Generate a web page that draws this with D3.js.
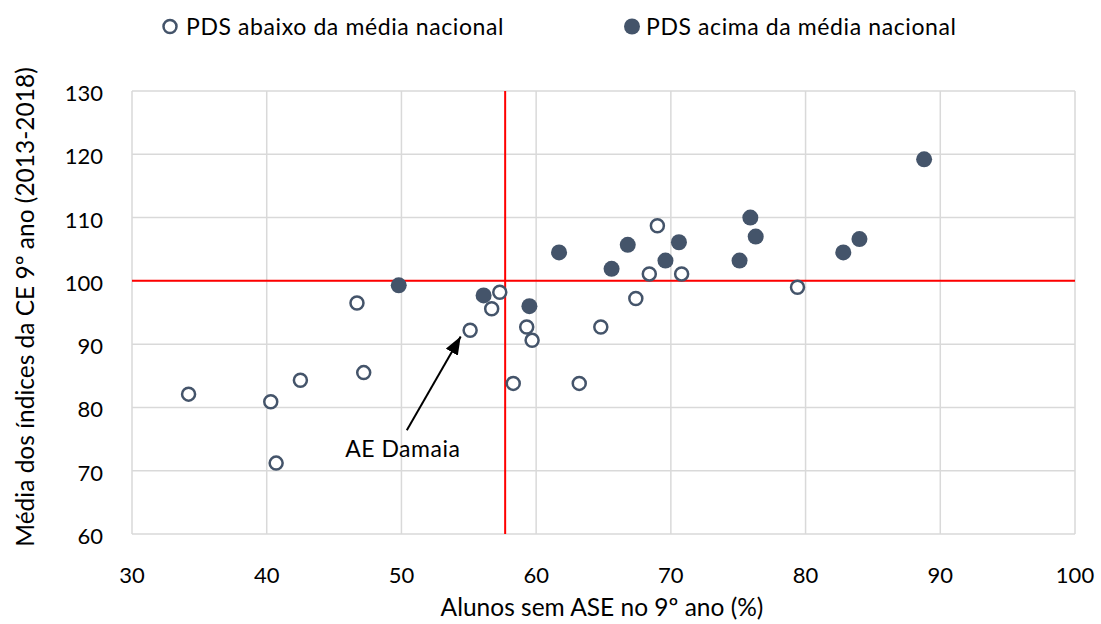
<!DOCTYPE html>
<meta charset="utf-8">
<style>
  body { margin: 0; background: #fff; }
  text { font-family: Lato, "Open Sans", sans-serif; fill: #000; }
</style>
<body>
<div id="chart"></div>
<script src="https://d3js.org/d3.v7.min.js"></script>
<script>

// PDS abaixo da média nacional (open markers)
var belowX = [34.2, 40.3, 40.7, 42.5, 46.7, 47.2, 55.1, 56.7, 57.3, 58.3, 59.3, 59.7, 63.2, 64.8, 67.4, 68.4, 69.0, 70.8, 79.4];
var belowY = [82.1, 80.9, 71.2, 84.3, 96.5, 85.5, 92.2, 95.6, 98.2, 83.8, 92.7, 90.6, 83.8, 92.7, 97.2, 101.1, 108.7, 101.1, 99.0];

// PDS acima da média nacional (filled markers)
var aboveX = [49.8, 56.1, 59.5, 61.7, 65.6, 66.8, 69.6, 70.6, 75.1, 75.9, 76.3, 82.8, 84.0, 88.8];
var aboveY = [99.3, 97.7, 96.0, 104.5, 101.9, 105.7, 103.2, 106.1, 103.2, 110.0, 107.0, 104.5, 106.6, 119.2];

// reference lines
var refX = 57.7;
var refY = 100;

var xTicks = [30, 40, 50, 60, 70, 80, 90, 100];
var yTicks = [60, 70, 80, 90, 100, 110, 120, 130];

var width = 1101, height = 624;
var margin = {left: 132, right: 26, top: 91, bottom: 90};
var markColor = "#44546a";

var svg = d3.select("#chart").append("svg")
    .attr("width", width)
    .attr("height", height);

var x = d3.scaleLinear().domain([30, 100]).range([margin.left, width - margin.right]);
var y = d3.scaleLinear().domain([60, 130]).range([height - margin.bottom, margin.top]);

// gridlines
svg.append("g").selectAll("line")
    .data(xTicks)
    .enter().append("line")
      .attr("x1", d => x(d)).attr("x2", d => x(d))
      .attr("y1", y(60)).attr("y2", y(130))
      .style("stroke", "#d9d9d9")
      .style("stroke-width", 1.5);

svg.append("g").selectAll("line")
    .data(yTicks)
    .enter().append("line")
      .attr("x1", x(30)).attr("x2", x(100))
      .attr("y1", d => y(d)).attr("y2", d => y(d))
      .style("stroke", "#d9d9d9")
      .style("stroke-width", 1.5);

// tick labels
svg.append("g").selectAll("text")
    .data(xTicks)
    .enter().append("text")
      .attr("x", d => x(d))
      .attr("y", y(60) + 49)
      .attr("text-anchor", "middle")
      .style("font-size", "22px")
      .text(d => d);

svg.append("g").selectAll("text")
    .data(yTicks)
    .enter().append("text")
      .attr("x", x(30) - 29)
      .attr("y", d => y(d) + 10)
      .attr("text-anchor", "end")
      .style("font-size", "22px")
      .text(d => d);

// axis titles
svg.append("text")
    .attr("x", 602)
    .attr("y", 616)
    .attr("text-anchor", "middle")
    .style("font-size", "24.5px")
    .text("Alunos sem ASE no 9º ano (%)");

svg.append("text")
    .attr("transform", "translate(34,307) rotate(-90)")
    .attr("text-anchor", "middle")
    .style("font-size", "24.5px")
    .text("Média dos índices da CE 9º ano (2013-2018)");

// red reference lines
svg.append("line")
    .attr("x1", x(refX)).attr("x2", x(refX))
    .attr("y1", y(60)).attr("y2", y(130))
    .style("stroke", "#ff0000").style("stroke-width", 2);

svg.append("line")
    .attr("x1", x(30)).attr("x2", x(100))
    .attr("y1", y(refY)).attr("y2", y(refY))
    .style("stroke", "#ff0000").style("stroke-width", 2);

// points
var below = belowX.map((v, i) => ({x: v, y: belowY[i]}));
var above = aboveX.map((v, i) => ({x: v, y: aboveY[i]}));

svg.append("g").selectAll("circle")
    .data(below)
    .enter().append("circle")
      .attr("cx", d => x(d.x))
      .attr("cy", d => y(d.y))
      .attr("r", 6.5)
      .style("fill", "#fff")
      .style("stroke", markColor)
      .style("stroke-width", 2.5);

svg.append("g").selectAll("circle")
    .data(above)
    .enter().append("circle")
      .attr("cx", d => x(d.x))
      .attr("cy", d => y(d.y))
      .attr("r", 8)
      .style("fill", markColor);

// annotation arrow
svg.append("defs").append("marker")
    .attr("id", "arrow")
    .attr("viewBox", "0 0 18 14")
    .attr("markerUnits", "userSpaceOnUse")
    .attr("refX", 18).attr("refY", 7)
    .attr("markerWidth", 18).attr("markerHeight", 14)
    .attr("orient", "auto")
  .append("path")
    .attr("d", "M0,0 L18,7 L0,14 z")
    .style("fill", "#000");

svg.append("line")
    .attr("x1", x(50.4)).attr("y1", y(76.4))
    .attr("x2", x(54.4)).attr("y2", y(91.2))
    .style("stroke", "#000")
    .style("stroke-width", 2)
    .attr("marker-end", "url(#arrow)");

svg.append("text")
    .attr("x", x(50.1))
    .attr("y", y(72.2))
    .attr("text-anchor", "middle")
    .style("font-size", "23px")
    .style("letter-spacing", "0.5px")
    .text("AE Damaia");

// legend
var legend = [
  {label: "PDS abaixo da média nacional", filled: false, x: 170},
  {label: "PDS acima da média nacional", filled: true, x: 632}
];
var lg = svg.append("g").selectAll("g")
    .data(legend)
    .enter().append("g")
      .attr("transform", d => "translate(" + d.x + ",26.5)");

lg.append("circle")
    .attr("r", d => d.filled ? 8 : 6.5)
    .style("fill", d => d.filled ? markColor : "#fff")
    .style("stroke", markColor)
    .style("stroke-width", d => d.filled ? 0 : 2.5);

lg.append("text")
    .attr("x", d => d.filled ? 14 : 16)
    .attr("y", 8)
    .style("font-size", "23px")
    .style("letter-spacing", "0.6px")
    .text(d => d.label);

</script>
</body>
</html>
